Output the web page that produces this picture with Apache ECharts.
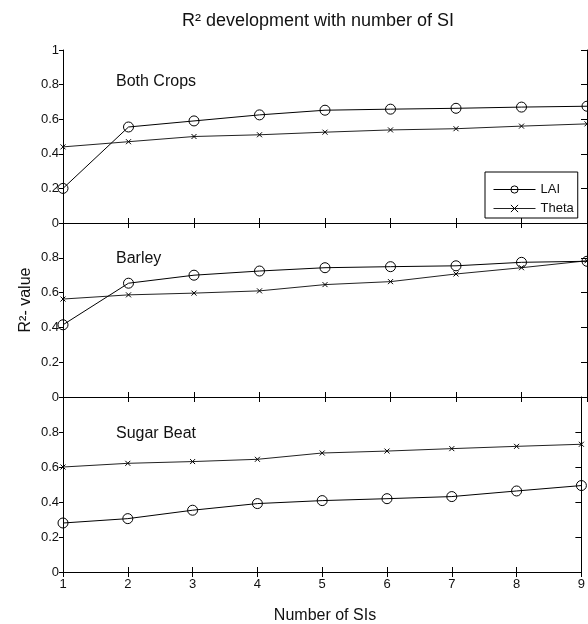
<!DOCTYPE html>
<html>
<head>
<meta charset="utf-8">
<script src="https://cdn.jsdelivr.net/npm/echarts@6/dist/echarts.min.js"></script>
<style>
html,body{margin:0;padding:0;background:#fff;}
#chart{width:588px;height:624px;}
</style>
</head>
<body>
<div id="chart"></div>
<script>
const xValues = [1, 2, 3, 4, 5, 6, 7, 8, 9];
const panelNames = ['Both Crops', 'Barley', 'Sugar Beat'];
const bothLAI = [0.20, 0.555, 0.59, 0.625, 0.652, 0.658, 0.663, 0.67, 0.675];
const bothTheta = [0.44, 0.47, 0.50, 0.51, 0.525, 0.538, 0.545, 0.56, 0.573];
const barleyLAI = [0.415, 0.654, 0.70, 0.724, 0.743, 0.749, 0.754, 0.774, 0.78];
const barleyTheta = [0.563, 0.587, 0.597, 0.61, 0.646, 0.663, 0.707, 0.743, 0.783];
const sugarLAI = [0.28, 0.305, 0.353, 0.391, 0.408, 0.419, 0.431, 0.463, 0.494];
const sugarTheta = [0.60, 0.621, 0.631, 0.644, 0.68, 0.691, 0.705, 0.718, 0.73];
const yTicks = [0, 0.2, 0.4, 0.6, 0.8, 1];
const titleText = 'R² development with number of SI';
const xName = 'Number of SIs';
const yName = 'R²- value';

const lai = [bothLAI, barleyLAI, sugarLAI];
const theta = [bothTheta, barleyTheta, sugarTheta];

const FONT = '"Liberation Sans", Arial, sans-serif';
const INK = '#111';
const gridTops = [50, 223, 397];
const gridHeights = [173, 174, 175];
const labelY = [82, 259, 434];

const grids = [], xAxes = [], yAxes = [], series = [];
for (let i = 0; i < 3; i++) {
  grids.push({left: 63, width: 524, top: gridTops[i], height: gridHeights[i], containLabel: false});
  const axLine = {show: true, lineStyle: {color: '#000', width: 1}};
  xAxes.push({
    gridIndex: i, type: 'value', min: 1, max: 9, interval: 1, position: 'bottom',
    axisLine: axLine, splitLine: {show: false},
    axisTick: {show: true, inside: true, length: 5, lineStyle: {color: '#000'}},
    axisLabel: {show: i === 2, color: INK, fontFamily: FONT, fontSize: 13, margin: 6}
  });
  xAxes.push({
    gridIndex: i, type: 'value', min: 1, max: 9, interval: 1, position: 'top',
    axisLine: axLine, splitLine: {show: false},
    axisTick: {show: true, inside: true, length: 5, lineStyle: {color: '#000'}},
    axisLabel: {show: false}
  });
  yAxes.push({
    gridIndex: i, type: 'value', min: yTicks[0], max: yTicks[yTicks.length - 1], interval: 0.2, position: 'left',
    axisLine: axLine, splitLine: {show: false},
    axisTick: {show: true, inside: false, length: 4, lineStyle: {color: '#000'}},
    axisLabel: {
      color: INK, fontFamily: FONT, fontSize: 13, margin: 4,
      formatter: (v) => (v >= 0.999 && i > 0) ? '' : String(Math.round(v * 10) / 10)
    }
  });
  yAxes.push({
    gridIndex: i, type: 'value', min: yTicks[0], max: yTicks[yTicks.length - 1], interval: 0.2, position: 'right',
    axisLine: axLine, splitLine: {show: false},
    axisTick: {show: true, inside: true, length: 6, lineStyle: {color: '#000'}},
    axisLabel: {show: false}
  });
  series.push({
    name: 'LAI', type: 'line', xAxisIndex: 2 * i, yAxisIndex: 2 * i,
    data: xValues.map((x, k) => [x, lai[i][k]]),
    symbol: 'circle', symbolSize: 10, showSymbol: true,
    lineStyle: {color: '#000', width: 1},
    itemStyle: {color: 'rgba(255,255,255,0)', borderColor: '#000', borderWidth: 1},
    emphasis: {disabled: true}, z: 3
  });
  series.push({
    name: 'Theta', type: 'line', xAxisIndex: 2 * i, yAxisIndex: 2 * i,
    data: xValues.map((x, k) => [x, theta[i][k]]),
    symbol: 'path://M0,0L10,10M10,0L0,10', symbolSize: 5, showSymbol: true,
    lineStyle: {color: '#222', width: 1},
    itemStyle: {color: '#000', borderColor: '#000', borderWidth: 1},
    emphasis: {disabled: true}, z: 2
  });
}

const graphics = [
  {type: 'text', x: 318, y: 21, style: {text: titleText, fill: INK, font: '18px ' + FONT, textAlign: 'center', textVerticalAlign: 'middle'}},
  {type: 'text', x: 325, y: 616, style: {text: xName, fill: INK, font: '16px ' + FONT, textAlign: 'center', textVerticalAlign: 'middle'}},
  {type: 'text', x: 26, y: 300, rotation: Math.PI / 2, style: {text: yName, fill: INK, font: '16px ' + FONT, textAlign: 'center', textVerticalAlign: 'middle'}}
];
panelNames.forEach((n, i) => {
  graphics.push({type: 'text', x: 116, y: labelY[i], style: {text: n, fill: INK, font: '16px ' + FONT, textAlign: 'left', textVerticalAlign: 'middle'}});
});

const chart = echarts.init(document.getElementById('chart'), null, {renderer: 'canvas'});
chart.setOption({
  animation: false,
  backgroundColor: '#fff',
  grid: grids,
  xAxis: xAxes,
  yAxis: yAxes,
  legend: {
    data: [
      {name: 'LAI', itemStyle: {borderWidth: 1}, lineStyle: {width: 1}},
      {name: 'Theta', itemStyle: {borderWidth: 1}, lineStyle: {width: 1}}
    ],
    orient: 'vertical', left: 485, top: 172,
    padding: [11, 4, 3, 8], itemWidth: 42, itemHeight: 9, itemGap: 6,
    borderColor: '#000', borderWidth: 1, backgroundColor: '#fff',
    selectedMode: false,
    lineStyle: {width: 1},
    textStyle: {color: INK, fontFamily: FONT, fontSize: 13}
  },
  series: series,
  graphic: graphics
});
</script>
</body>
</html>
